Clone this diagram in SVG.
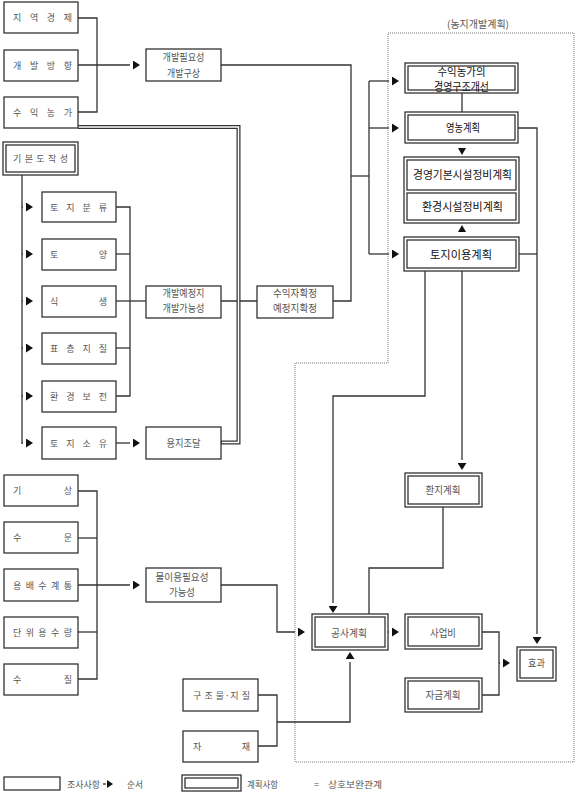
<svg xmlns="http://www.w3.org/2000/svg" width="582" height="800" viewBox="0 0 582 800">
<style>
.b{fill:#fff;stroke:#333;stroke-width:1.3}
.c{fill:none;stroke:#333;stroke-width:1.3}
.t{font-family:"Noto Sans CJK KR","Noto Sans",sans-serif;font-size:9px;fill:#555}
.m{font-family:"Noto Sans CJK KR","Noto Sans",sans-serif;font-size:10px;fill:#555;text-anchor:middle}
.k{font-family:"Noto Sans CJK KR","Noto Sans",sans-serif;font-size:11.5px;fill:#111;text-anchor:middle}
.tri{fill:#111}
</style>
<defs>
<marker id="ar" viewBox="0 0 11 9" refX="0" refY="4.5" markerWidth="11" markerHeight="9" markerUnits="userSpaceOnUse" orient="auto">
<path d="M3,0 L10,4.5 L3,9 z" fill="#111"/>
</marker>
</defs>
<rect width="582" height="800" fill="#fff"/>

<!-- planning region -->
<g id="region">
<path d="M388,33 H574 V762 H295 V363 H388 Z" fill="none" stroke="#777" stroke-width="1" stroke-dasharray="1 1"/>
<text class="m" x="478" y="28">(농지개발계획)</text>
</g>

<g id="connectors">
<path class="c" d="M78,18 H97 V112 H78"/>
<path class="c" d="M78,65 H130" marker-end="url(#ar)"/>
<path class="c" d="M221,65 H351 V301 H333"/>
<path class="c" d="M351,176 H369"/>
<path class="c" d="M369,81 V254"/>
<path class="c" d="M369,81 H389" marker-end="url(#ar)"/>
<path class="c" d="M369,128 H389" marker-end="url(#ar)"/>
<path class="c" d="M369,254 H389" marker-end="url(#ar)"/>
<path class="c" d="M462,93 V112"/>
<polygon class="tri" points="458,148 466,148 462,155"/>
<polygon class="tri" points="458,232 466,232 462,225"/>
<path class="c" d="M518,128 H537 V634" marker-end="url(#ar)"/>
<path class="c" d="M519,254 H537"/>
<path class="c" d="M425,271 V396 H333 V603" marker-end="url(#ar)"/>
<path class="c" d="M462,271 V460" marker-end="url(#ar)"/>
<path class="c" d="M443,507 V568 H369 V614"/>
<path class="c" d="M221,585 H277 V632 H295" marker-end="url(#ar)"/>
<path class="c" d="M258,695 H277 V746 H258"/>
<path class="c" d="M277,722 H350 V662" marker-end="url(#ar)"/>
<path class="c" d="M388,632 H389" marker-end="url(#ar)"/>
<path class="c" d="M482,632 H499 V695 H482"/>
<path class="c" d="M499,663 H500" marker-end="url(#ar)"/>
<path class="c" d="M22,175 V444"/>
<path class="c" d="M22,207 H23" marker-end="url(#ar)"/>
<path class="c" d="M22,254 H23" marker-end="url(#ar)"/>
<path class="c" d="M22,301 H23" marker-end="url(#ar)"/>
<path class="c" d="M22,348 H23" marker-end="url(#ar)"/>
<path class="c" d="M22,396 H23" marker-end="url(#ar)"/>
<path class="c" d="M22,443 H23" marker-end="url(#ar)"/>
<path class="c" d="M116,207 H130 V396 H116"/>
<path class="c" d="M116,254 H130"/>
<path class="c" d="M116,348 H130"/>
<path class="c" d="M116,301 H146"/>
<path class="c" d="M221,301 H257"/>
<path class="c" d="M116,443 H130" marker-end="url(#ar)"/>
<path class="c" d="M78,491 H97 V679 H78"/>
<path class="c" d="M78,538 H97"/>
<path class="c" d="M78,632 H97"/>
<path class="c" d="M78,585 H130" marker-end="url(#ar)"/>
<path d="M78,127 H238.5 V442.5 H221" fill="none" stroke="#333" stroke-width="4" stroke-linejoin="miter"/>
<path d="M76,127 H238.5 V442.5 H222" fill="none" stroke="#fff" stroke-width="1.5" stroke-linejoin="miter"/>
</g>

<!-- left top -->
<g id="n_jiyeok"><rect class="b" x="4" y="2" width="74" height="31"/><text class="t" x="13" y="21" textLength="59" lengthAdjust="spacing">지 역 경 제</text></g>
<g id="n_gaebal"><rect class="b" x="4" y="50" width="74" height="31"/><text class="t" x="13" y="69" textLength="59" lengthAdjust="spacing">개 발 방 향</text></g>
<g id="n_suik"><rect class="b" x="4" y="97" width="74" height="31"/><text class="t" x="13" y="116" textLength="59" lengthAdjust="spacing">수 익 농 가</text></g>
<g id="n_pilyo"><rect class="b" x="146" y="49" width="75" height="32"/><text class="m" x="183.5" y="61" textLength="42" lengthAdjust="spacingAndGlyphs">개발필요성</text><text class="m" x="183.5" y="77" textLength="33" lengthAdjust="spacingAndGlyphs">개발구상</text></g>

<g id="n_gibon"><rect class="b" x="3" y="142" width="75" height="33"/><rect class="b" x="6" y="145" width="69" height="27"/><text class="t" x="13" y="162" textLength="55" lengthAdjust="spacing">기 본 도 작 성</text></g>
<g id="n_toji"><rect class="b" x="42" y="192" width="74" height="30"/><text class="t" x="50" y="210.5" textLength="57" lengthAdjust="spacing">토 지 분 류</text></g>
<g id="n_toyang"><rect class="b" x="42" y="239" width="74" height="31"/><text class="t" x="50" y="258" textLength="57" lengthAdjust="spacing">토 양</text></g>
<g id="n_siksaeng"><rect class="b" x="42" y="286" width="74" height="31"/><text class="t" x="50" y="305" textLength="57" lengthAdjust="spacing">식 생</text></g>
<g id="n_pyocheung"><rect class="b" x="42" y="333" width="74" height="31"/><text class="t" x="50" y="352" textLength="57" lengthAdjust="spacing">표 층 지 질</text></g>
<g id="n_hwangyeong"><rect class="b" x="42" y="381" width="74" height="31"/><text class="t" x="50" y="400" textLength="57" lengthAdjust="spacing">환 경 보 전</text></g>
<g id="n_soyu"><rect class="b" x="42" y="427" width="74" height="32"/><text class="t" x="50" y="446.5" textLength="57" lengthAdjust="spacing">토 지 소 유</text></g>
<g id="n_yejeong"><rect class="b" x="146" y="286" width="75" height="32"/><text class="m" x="183.5" y="297" textLength="42" lengthAdjust="spacingAndGlyphs">개발예정지</text><text class="m" x="183.5" y="312" textLength="42" lengthAdjust="spacingAndGlyphs">개발가능성</text></g>
<g id="n_suikja"><rect class="b" x="257" y="286" width="76" height="32"/><text class="m" x="295" y="297" textLength="44" lengthAdjust="spacingAndGlyphs">수익자확정</text><text class="m" x="295" y="312" textLength="44" lengthAdjust="spacingAndGlyphs">예정지확정</text></g>
<g id="n_yongji"><rect class="b" x="146" y="427" width="75" height="32"/><text class="m" x="183.5" y="446.5" textLength="34" lengthAdjust="spacingAndGlyphs">용지조달</text></g>

<!-- left bottom -->
<g id="n_gisang"><rect class="b" x="4" y="475" width="74" height="31"/><text class="t" x="13" y="494" textLength="59" lengthAdjust="spacing">기 상</text></g>
<g id="n_sumun"><rect class="b" x="4" y="522" width="74" height="31"/><text class="t" x="13" y="541" textLength="59" lengthAdjust="spacing">수 문</text></g>
<g id="n_yongbae"><rect class="b" x="4" y="569" width="74" height="32"/><text class="t" x="13" y="588.5" textLength="59" lengthAdjust="spacing">용 배 수 계 통</text></g>
<g id="n_danwi"><rect class="b" x="4" y="617" width="74" height="31"/><text class="t" x="13" y="636" textLength="59" lengthAdjust="spacing">단 위 용 수 량</text></g>
<g id="n_sujil"><rect class="b" x="4" y="664" width="74" height="31"/><text class="t" x="13" y="683" textLength="59" lengthAdjust="spacing">수 질</text></g>
<g id="n_mul"><rect class="b" x="146" y="568" width="75" height="34"/><text class="m" x="182" y="581" textLength="53" lengthAdjust="spacingAndGlyphs">물이용필요성</text><text class="m" x="182" y="596" textLength="26" lengthAdjust="spacingAndGlyphs">가능성</text></g>
<g id="n_gujo"><rect class="b" x="183" y="679" width="75" height="32"/><text class="t" x="193" y="698.5" textLength="57" lengthAdjust="spacing">구 조 물·지 질</text></g>
<g id="n_jajae"><rect class="b" x="183" y="731" width="75" height="31"/><text class="t" x="193" y="750" textLength="57" lengthAdjust="spacing">자 재</text></g>

<!-- plan boxes -->
<g id="n_gujogaeseon"><rect class="b" x="405" y="63" width="113" height="30"/><rect class="b" x="408" y="66" width="107" height="24"/><text class="k" x="461.5" y="76" font-size="12" textLength="48" lengthAdjust="spacingAndGlyphs">수익농가의</text><text class="k" x="461.5" y="91" textLength="55" lengthAdjust="spacingAndGlyphs">경영구조개선</text></g>
<g id="n_yeongnong"><rect class="b" x="405" y="112" width="113" height="31"/><rect class="b" x="408" y="115" width="107" height="25"/><text class="k" x="463" y="132" textLength="34" lengthAdjust="spacingAndGlyphs">영농계획</text></g>
<g id="n_siseol"><rect class="b" x="404" y="157" width="115" height="66"/><rect class="b" x="407" y="160" width="109" height="30"/><rect class="b" x="407" y="193" width="109" height="27"/><text class="k" x="462.5" y="179" textLength="99" lengthAdjust="spacingAndGlyphs">경영기본시설정비계획</text><text class="k" x="462.5" y="211" textLength="81" lengthAdjust="spacingAndGlyphs">환경시설정비계획</text></g>
<g id="n_tojiiyong"><rect class="b" x="404" y="237" width="115" height="34"/><rect class="b" x="407" y="240" width="109" height="28"/><text class="k" x="461" y="259" textLength="62" lengthAdjust="spacingAndGlyphs">토지이용계획</text></g>
<g id="n_hwanji"><rect class="b" x="405" y="473" width="77" height="34"/><rect class="b" x="408" y="476" width="71" height="28"/><text class="m" x="443" y="493.5" textLength="35" lengthAdjust="spacingAndGlyphs">환지계획</text></g>
<g id="n_gongsa"><rect class="b" x="312" y="614" width="76" height="36"/><rect class="b" x="315" y="617" width="70" height="30"/><text class="m" x="349" y="636.5" textLength="36" lengthAdjust="spacingAndGlyphs">공사계획</text></g>
<g id="n_saeop"><rect class="b" x="405" y="614" width="77" height="35"/><rect class="b" x="408" y="617" width="71" height="29"/><text class="m" x="443" y="636.5" textLength="26" lengthAdjust="spacingAndGlyphs">사업비</text></g>
<g id="n_jageum"><rect class="b" x="405" y="678" width="77" height="34"/><rect class="b" x="408" y="681" width="71" height="28"/><text class="m" x="443" y="698.5" textLength="35" lengthAdjust="spacingAndGlyphs">자금계획</text></g>
<g id="n_hyogwa"><rect class="b" x="517" y="647" width="39" height="34"/><rect class="b" x="520" y="650" width="33" height="28"/><text class="m" x="536.5" y="667" textLength="17" lengthAdjust="spacingAndGlyphs">효과</text></g>

<!-- legend -->
<g id="legend">
<rect class="b" x="4" y="777" width="56" height="13"/>
<text class="t" x="67" y="787.5" textLength="33" lengthAdjust="spacingAndGlyphs">조사사항</text>
<path class="c" d="M103,784 H106"/>
<polygon class="tri" points="107,780 113,784 107,788"/>
<text class="t" x="127" y="787.5" textLength="16" lengthAdjust="spacingAndGlyphs">순서</text>
<rect class="b" x="182" y="775" width="59" height="16"/>
<rect class="b" x="185" y="778" width="53" height="10"/>
<text class="t" x="247" y="787.5" textLength="31" lengthAdjust="spacingAndGlyphs">계획사항</text>
<text class="t" x="314" y="787.5">=</text>
<text class="t" x="328" y="787.5" textLength="54" lengthAdjust="spacingAndGlyphs">상호보완관계</text>
</g>
</svg>
